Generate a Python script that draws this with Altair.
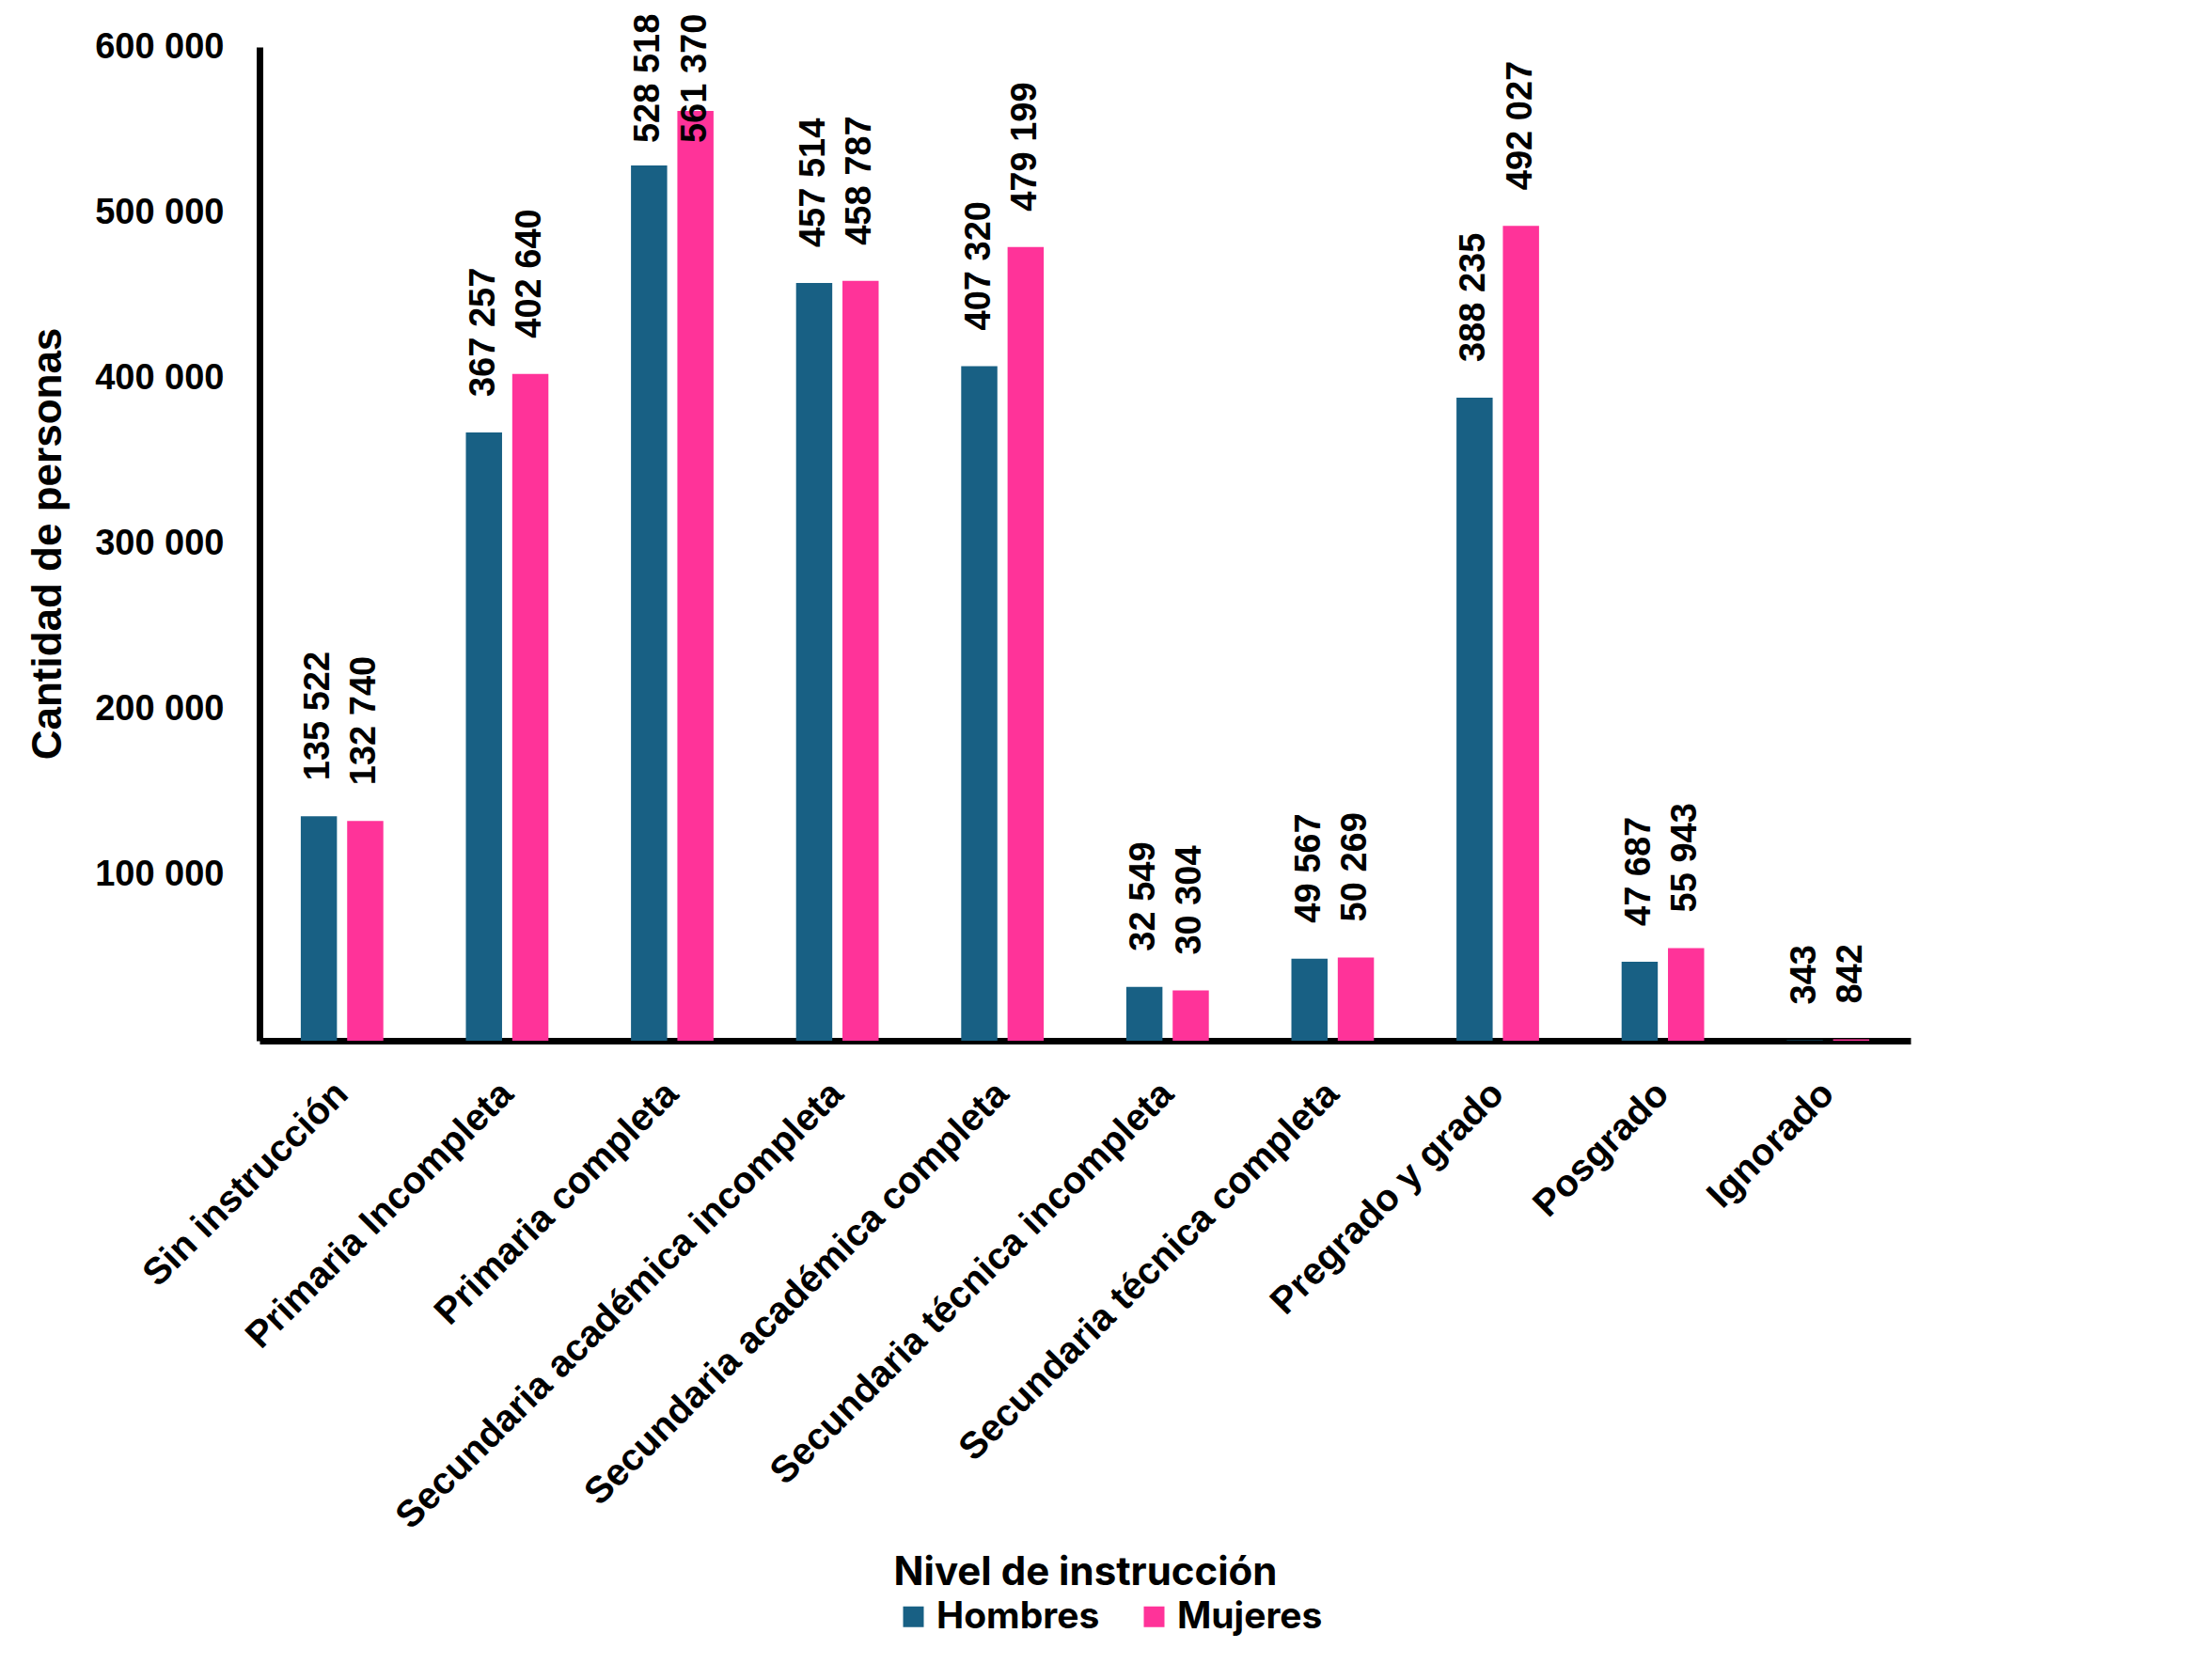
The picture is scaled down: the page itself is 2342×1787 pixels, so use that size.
import altair as alt
import pandas as pd

categorias = [
    "Sin instrucción",
    "Primaria Incompleta",
    "Primaria completa",
    "Secundaria académica incompleta",
    "Secundaria académica completa",
    "Secundaria técnica incompleta",
    "Secundaria técnica completa",
    "Pregrado y grado",
    "Posgrado",
    "Ignorado",
]
hombres = [135522, 367257, 528518, 457514, 407320, 32549, 49567, 388235, 47687, 343]
mujeres = [132740, 402640, 561370, 458787, 479199, 30304, 50269, 492027, 55943, 842]
sexos = ["Hombres", "Mujeres"]
colores = ["#186084", "#FF3399"]
y_ticks = [100000, 200000, 300000, 400000, 500000, 600000]


def fmt(v):
    return f"{v:,}".replace(",", " ")


rows = []
for c, h, m in zip(categorias, hombres, mujeres):
    rows.append({"cat": c, "sexo": "Hombres", "valor": h, "etiqueta": fmt(h)})
    rows.append({"cat": c, "sexo": "Mujeres", "valor": m, "etiqueta": fmt(m)})
df = pd.DataFrame(rows)

FONT = "Liberation Sans"
FONT2 = "Inter"

x_enc = alt.X(
    "cat:N",
    sort=categorias,
    scale=alt.Scale(paddingInner=0.5, paddingOuter=0.25),
    axis=alt.Axis(
        title="Nivel de instrucción",
        titleFont=FONT2,
        titleFontSize=42,
        titleFontWeight="bold",
        titleColor="black",
        titleX=878,
        titleY=565,
        titleBaseline="middle",
        labelAngle=315,
        labelAlign="right",
        labelBaseline="middle",
        labelPadding=50,
        labelFont=FONT,
        labelFontSize=40,
        labelFontWeight="bold",
        labelColor="black",
        labelLimit=1000,
        ticks=False,
        domainColor="black",
        domainWidth=7,
    ),
)
xoff = alt.XOffset("sexo:N", sort=sexos, scale=alt.Scale(paddingInner=0.22, paddingOuter=0))
y_scale = alt.Scale(domain=[0, 600000], nice=False)

bars = alt.Chart(df).mark_bar().encode(
    x=x_enc,
    xOffset=xoff,
    y=alt.Y(
        "valor:Q",
        scale=y_scale,
        axis=alt.Axis(
            title="Cantidad de personas",
            titleFont=FONT,
            titleFontSize=44,
            titleFontWeight="bold",
            titleColor="black",
            titleAngle=270,
            titleX=-212,
            titleY=528,
            titleAlign="center",
            titleBaseline="alphabetic",
            values=y_ticks,
            labelExpr="replace(format(datum.value, ','), ',', ' ')",
            labelFont=FONT,
            labelFontSize=38,
            labelFontWeight="bold",
            labelColor="black",
            labelPadding=38,
            ticks=False,
            grid=False,
            domainColor="black",
            domainWidth=7,
        ),
    ),
    color=alt.Color(
        "sexo:N",
        sort=sexos,
        scale=alt.Scale(domain=sexos, range=colores),
        legend=alt.Legend(
            title=None,
            orient="none",
            direction="horizontal",
            legendX=676,
            legendY=1650,
            symbolType="square",
            symbolSize=484,
            symbolStrokeWidth=0,
            labelFont=FONT2,
            labelFontSize=39,
            labelFontWeight="bold",
            labelColor="black",
            labelOffset=5,
            labelLimit=500,
            columnPadding=38,
        ),
    ),
)

labels = alt.Chart(df).transform_calculate(
    pos="min(datum.valor, 520500)"
).mark_text(
    angle=270,
    align="left",
    baseline="middle",
    dx=38,
    font=FONT,
    fontSize=38,
    fontWeight="bold",
    color="black",
).encode(
    x=alt.X("cat:N", sort=categorias),
    xOffset=xoff,
    y=alt.Y("pos:Q", scale=y_scale),
    text="etiqueta:N",
)

chart = (
    alt.layer(bars, labels)
    .properties(
        width=1756,
        height=1057,
        autosize=alt.AutoSizeParams(type="none"),
        padding={"left": 268, "top": 42, "right": 290, "bottom": 660},
        view=alt.ViewBackground(strokeOpacity=0, strokeWidth=0),
    )
    .configure_view(strokeWidth=0, strokeOpacity=0)
    .configure(background="white")
)

chart.save("out.html", embed_options={"renderer": "svg", "actions": False})
